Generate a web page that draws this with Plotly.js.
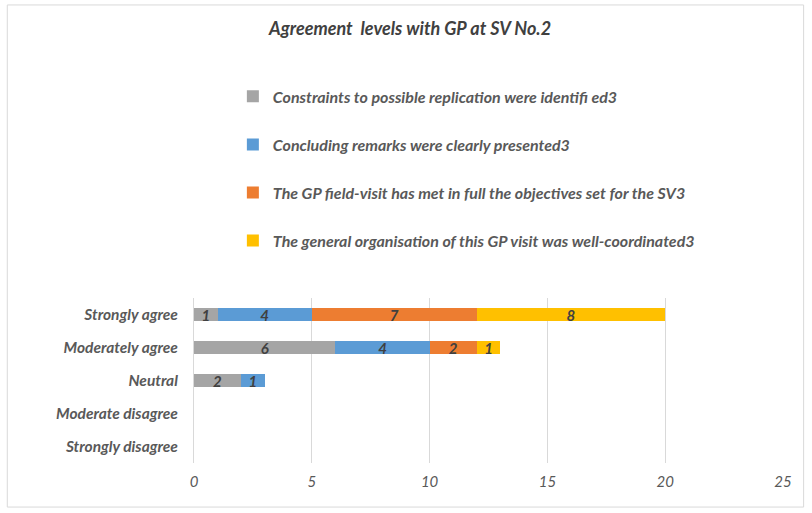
<!DOCTYPE html>
<html>
<head>
<meta charset="utf-8">
<script src="https://cdn.plot.ly/plotly-3.0.1.min.js"></script>
<style>html,body{margin:0;padding:0;background:#fff;}#chart{width:812px;height:513px;}</style>
</head>
<body>
<div id="chart"></div>
<script>
const categories = ["Strongly agree", "Moderately agree", "Neutral", "Moderate disagree", "Strongly disagree"];
const seriesNames = [
  "Constraints to possible replication were identifi ed3",
  "Concluding remarks were clearly presented3",
  "The GP field-visit has met in full the objectives set for the SV3",
  "The general organisation of this GP visit was well-coordinated3"
];
const constraintsVals = [1, 6, 2, 0, 0];
const concludingVals = [4, 4, 1, 0, 0];
const fieldVisitVals = [7, 2, 0, 0, 0];
const organisationVals = [8, 1, 0, 0, 0];
const xTicks = [0, 5, 10, 15, 20, 25];
const colors = ["#A5A5A5", "#5B9BD5", "#ED7D31", "#FFC000"];

const allVals = [constraintsVals, concludingVals, fieldVisitVals, organisationVals];
const fontFam = "Lato, 'Open Sans', sans-serif";
const traces = allVals.map((vals, i) => ({
  type: "bar",
  orientation: "h",
  name: seriesNames[i],
  legendgroup: "g" + i,
  y: categories,
  x: vals,
  marker: {color: colors[i]},
  text: vals.map(v => v > 0 ? String(v) : ""),
  textposition: "inside",
  textangle: 0,
  insidetextanchor: "middle",
  constraintext: "none",
  textfont: {family: fontFam, size: 15, color: "#404040", style: "italic", weight: "bold"},
  hoverinfo: "x+name"
}));

const layout = {
  width: 812, height: 513,
  margin: {l: 194, r: 29, t: 298, b: 50},
  paper_bgcolor: "#fff",
  plot_bgcolor: "#fff",
  barmode: "stack",
  bargap: 0.6,
  font: {family: fontFam, color: "#595959"},
  title: {
    text: "Agreement  levels with GP at SV No.2",
    font: {family: fontFam, size: 18, color: "#404040", style: "italic", weight: "bold"},
    x: 0.505, xanchor: "center",
    y: 0.945, yref: "container", yanchor: "middle"
  },
  showlegend: true,
  legend: {
    x: 0.066, xanchor: "left",
    y: 2.325, yanchor: "top",
    traceorder: "grouped",
    tracegroupgap: 24.3,
    font: {family: fontFam, size: 16, color: "#595959", style: "italic", weight: "bold"},
    itemwidth: 30,
    bgcolor: "rgba(0,0,0,0)"
  },
  xaxis: {
    range: [0, 25],
    tickvals: xTicks,
    showgrid: true,
    gridcolor: "#D9D9D9",
    gridwidth: 1,
    zeroline: false,
    showline: false,
    ticks: "",
    ticklabelstandoff: 8,
    tickfont: {family: fontFam, size: 15, color: "#595959", style: "italic"},
    fixedrange: true
  },
  yaxis: {
    categoryorder: "array",
    categoryarray: categories,
    autorange: "reversed",
    showgrid: false,
    zeroline: false,
    showline: true,
    linecolor: "#D9D9D9",
    linewidth: 1,
    ticks: "",
    ticklabelstandoff: 12,
    tickfont: {family: fontFam, size: 15.5, color: "#595959", style: "italic", weight: "bold"},
    fixedrange: true
  },
  shapes: [{
    type: "rect", xref: "paper", yref: "paper",
    x0: -0.317, x1: 1.035, y0: -0.267, y1: 2.776,
    line: {color: "#D9D9D9", width: 1}, fillcolor: "rgba(0,0,0,0)", layer: "below"
  }]
};

Plotly.newPlot("chart", traces, layout, {displayModeBar: false, staticPlot: true});
</script>
</body>
</html>
